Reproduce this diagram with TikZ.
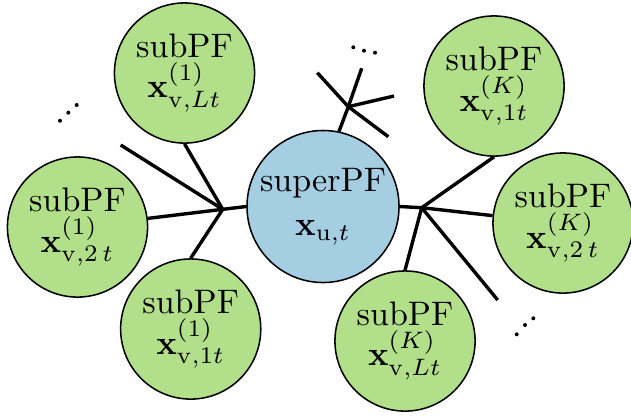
\documentclass[tikz,border=0pt]{standalone}
\definecolor{subgreen}{RGB}{178,223,138}
\definecolor{superblue}{RGB}{166,206,227}
\begin{document}
\begin{tikzpicture}[x=0.294pt,y=-0.294pt,
  pf/.style={circle,draw,line width=0.45pt,align=center,inner sep=0pt},
  subpf/.style={pf,fill=subgreen,minimum size=41.2pt},
  superpf/.style={pf,fill=superblue,minimum size=44.7pt},
  link/.style={line width=1pt},
  dotmark/.style={fill=black}]
\useasboundingbox (0,0) rectangle (631,415);
% nodes
\node[superpf] (super) at (323,206.5) {superPF\\[1pt]$\mathbf{x}_{\mathrm{u},t}$};
\node[subpf] (sub1L) at (184.5,73) {subPF\\$\mathbf{x}^{(1)}_{\mathrm{v},Lt}$};
\node[subpf] (sub2L) at (77.5,227) {subPF\\$\mathbf{x}^{(1)}_{\mathrm{v},2\,t}$};
\node[subpf] (sub3L) at (190.7,329) {subPF\\$\mathbf{x}^{(1)}_{\mathrm{v},1t}$};
\node[subpf] (subK1) at (494,86) {subPF\\$\mathbf{x}^{(K)}_{\mathrm{v},1t}$};
\node[subpf] (subK2) at (563,223) {subPF\\$\mathbf{x}^{(K)}_{\mathrm{v},2\,t}$};
\node[subpf] (subKL) at (405,341) {subPF\\$\mathbf{x}^{(K)}_{\mathrm{v},Lt}$};
% hubs and free ends
\coordinate (hubL) at (222.7,209.3);
\coordinate (hubR) at (421.7,207.7);
\coordinate (hubT) at (348.3,106.7);
\coordinate (freeL) at (120.7,145);
\coordinate (freeR) at (497.7,300);
\coordinate (freeT1) at (317.3,72.7);
\coordinate (freeT2) at (361.7,68.3);
\coordinate (freeT3) at (394,96);
\coordinate (freeT4) at (388.3,136.7);
% connectors
\draw[link] (hubL) -- (super.west);
\draw[link] (hubL) -- (sub1L.south);
\draw[link] (hubL) -- (sub2L.7);
\draw[link] (hubL) -- (sub3L.north);
\draw[link] (hubL) -- (freeL);
\draw[link] (hubR) -- (super.east);
\draw[link] (hubR) -- (subK1.south);
\draw[link] (hubR) -- (subK2.174);
\draw[link] (hubR) -- (subKL.north);
\draw[link] (hubR) -- (freeR);
\draw[link] (hubT) -- (super.78);
\draw[link] (hubT) -- (freeT1);
\draw[link] (hubT) -- (freeT2);
\draw[link] (hubT) -- (freeT3);
\draw[link] (hubT) -- (freeT4);
% dots
\foreach \p in {(60,120.7),(68.3,112.7),(76.7,105),
                (353.3,47.3),(364,50.7),(375,52.7),
                (516.7,334.3),(525,325),(533.3,318.3)}
  \fill[dotmark] \p circle (2);
\end{tikzpicture}
\end{document}
